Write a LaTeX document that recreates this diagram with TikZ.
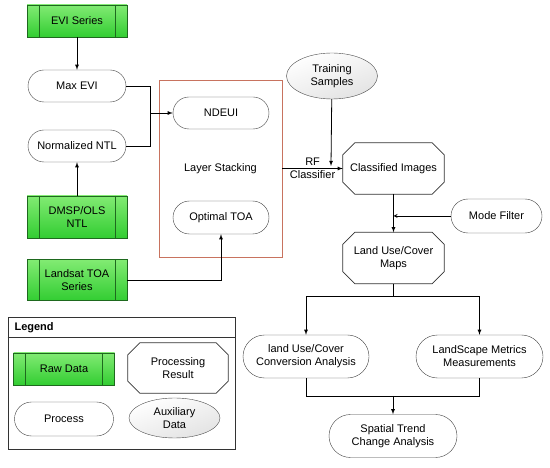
\documentclass[tikz,border=0pt]{standalone}
\usepackage{fontspec}
\setmainfont{Liberation Sans}
\usetikzlibrary{shapes,arrows}
\definecolor{rawtop}{RGB}{130,235,115}
\definecolor{rawbot}{RGB}{50,205,50}
\definecolor{rawline}{RGB}{30,105,30}
\definecolor{stackred}{RGB}{200,115,95}
\begin{document}
\begin{tikzpicture}[x=1pt, y=-1pt, font=\fontsize{11}{13}\selectfont]
\tikzstyle{rawdata}=[rectangle, draw=rawline, top color=rawtop, bottom color=rawbot, minimum width=100pt, minimum height=32pt, inner sep=1pt, align=center,
  path picture={\draw[rawline] ([xshift=12pt]path picture bounding box.north west) -- ([xshift=12pt]path picture bounding box.south west);
                \draw[rawline] ([xshift=-12pt]path picture bounding box.north east) -- ([xshift=-12pt]path picture bounding box.south east);}]
\tikzstyle{proc}=[rounded rectangle, draw=black!75, minimum width=100pt, minimum height=32pt, inner sep=1pt, align=center]
\tikzstyle{result}=[rectangle, minimum width=100pt, minimum height=50pt, inner sep=1pt, align=center,
  append after command={\pgfextra{\draw[black!80, line width=0.7pt]
    ([xshift=12pt]\tikzlastnode.north west) -- ([xshift=-12pt]\tikzlastnode.north east) --
    ([yshift=-12pt]\tikzlastnode.north east) -- ([yshift=12pt]\tikzlastnode.south east) --
    ([xshift=-12pt]\tikzlastnode.south east) -- ([xshift=12pt]\tikzlastnode.south west) --
    ([yshift=12pt]\tikzlastnode.south west) -- ([yshift=-12pt]\tikzlastnode.north west) -- cycle;}}]
\tikzstyle{aux}=[ellipse, draw=black!70, shading=axis, top color=white, bottom color=black!11, shading angle=20, minimum width=91pt, minimum height=46pt, inner sep=0pt, align=center]
\tikzstyle{drawstyle}=[line width=0.8pt, ->, >=latex]
\tikzstyle{linestyle}=[line width=0.8pt]

\useasboundingbox (0,0) rectangle (550,468);

% left column
\node[rawdata] (evi) at (77,21) {EVI Series};
\node[proc] (maxevi) at (77,86) {Max EVI};
\node[proc] (ntl) at (77,146) {Normalized NTL};
\node[rawdata, minimum height=42pt] (dmsp) at (77,217) {DMSP/OLS\\NTL};
\node[rawdata, minimum height=41pt] (landsat) at (77,280) {Landsat TOA\\Series};
\draw[drawstyle] (evi) -- (maxevi);
\draw[drawstyle] (dmsp) -- (ntl);

% layer stacking
\node[rectangle, draw=stackred, line width=0.8pt, minimum width=123pt, minimum height=177pt] (stack) at (220.5,168.5) {Layer Stacking};
\node[proc, minimum width=98pt] (ndeui) at (221,113) {NDEUI};
\node[proc, minimum width=98pt, minimum height=33pt] (optoa) at (221,217.5) {Optimal TOA};
\coordinate (j1) at (150,113);
\draw[linestyle] (maxevi) -| (j1);
\draw[linestyle] (ntl) -| (j1);
\draw[drawstyle] (j1) -- (ndeui);
\draw[drawstyle] (landsat) -| (optoa);

% classification
\node[aux] (train) at (332,76) {Training\\Samples};
\node[result, minimum width=101pt, minimum height=51pt] (cls) at (393.5,168.5) {Classified Images};
\coordinate (tj) at (331,166);
\draw[drawstyle] (train) -- (tj);
\draw[drawstyle] (stack) -- node[align=center, inner sep=0pt] {RF\\Classifier} (cls);
\node[proc, minimum width=93pt, minimum height=34pt] (mode) at (496.5,216) {Mode Filter};
\node[result, minimum width=101pt, minimum height=51pt] (maps) at (393.5,258) {Land Use/Cover\\Maps};
\coordinate (mj) at (393.5,216);
\draw[drawstyle] (cls) -- (maps);
\draw[line width=0.8pt, -stealth] (mode) -- (mj);

% analysis
\node[proc, minimum width=128pt, minimum height=43pt] (conv) at (306,356.5) {land Use/Cover\\Conversion Analysis};
\node[proc, minimum width=129pt, minimum height=43pt] (metric) at (479.5,356.5) {LandScape Metrics\\Measurements};
\node[proc, minimum width=130pt, minimum height=43pt] (trend) at (393,436) {Spatial Trend\\Change Analysis};
\coordinate (b1) at (393.5,296);
\coordinate (b2) at (393,396);
\draw[linestyle] (maps) -- (b1);
\draw[drawstyle] (b1) -| (conv);
\draw[drawstyle] (b1) -| (metric);
\draw[linestyle] (conv) |- (b2);
\draw[linestyle] (metric) |- (b2);
\draw[drawstyle] (b2) -- (trend);

% legend
\node[rectangle, draw=black!80, line width=0.8pt, minimum width=227pt, minimum height=132pt] (legend) at (121.5,383) {};
\draw[black!80, line width=0.8pt] ([yshift=-21pt]legend.north west) -- ([yshift=-21pt]legend.north east);
\node[anchor=west, font=\fontsize{11}{13}\selectfont\bfseries] (legendtitle) at (11,327.5) {Legend};
\node[rawdata, minimum width=101pt] (lraw) at (64,369) {Raw Data};
\node[result] (lres) at (178,368) {Processing\\Result};
\node[proc, minimum width=101pt, minimum height=34pt] (lproc) at (64,419) {Process};
\node[aux, minimum height=40pt] (laux) at (174.5,418) {Auxiliary\\Data};
\end{tikzpicture}
\end{document}
